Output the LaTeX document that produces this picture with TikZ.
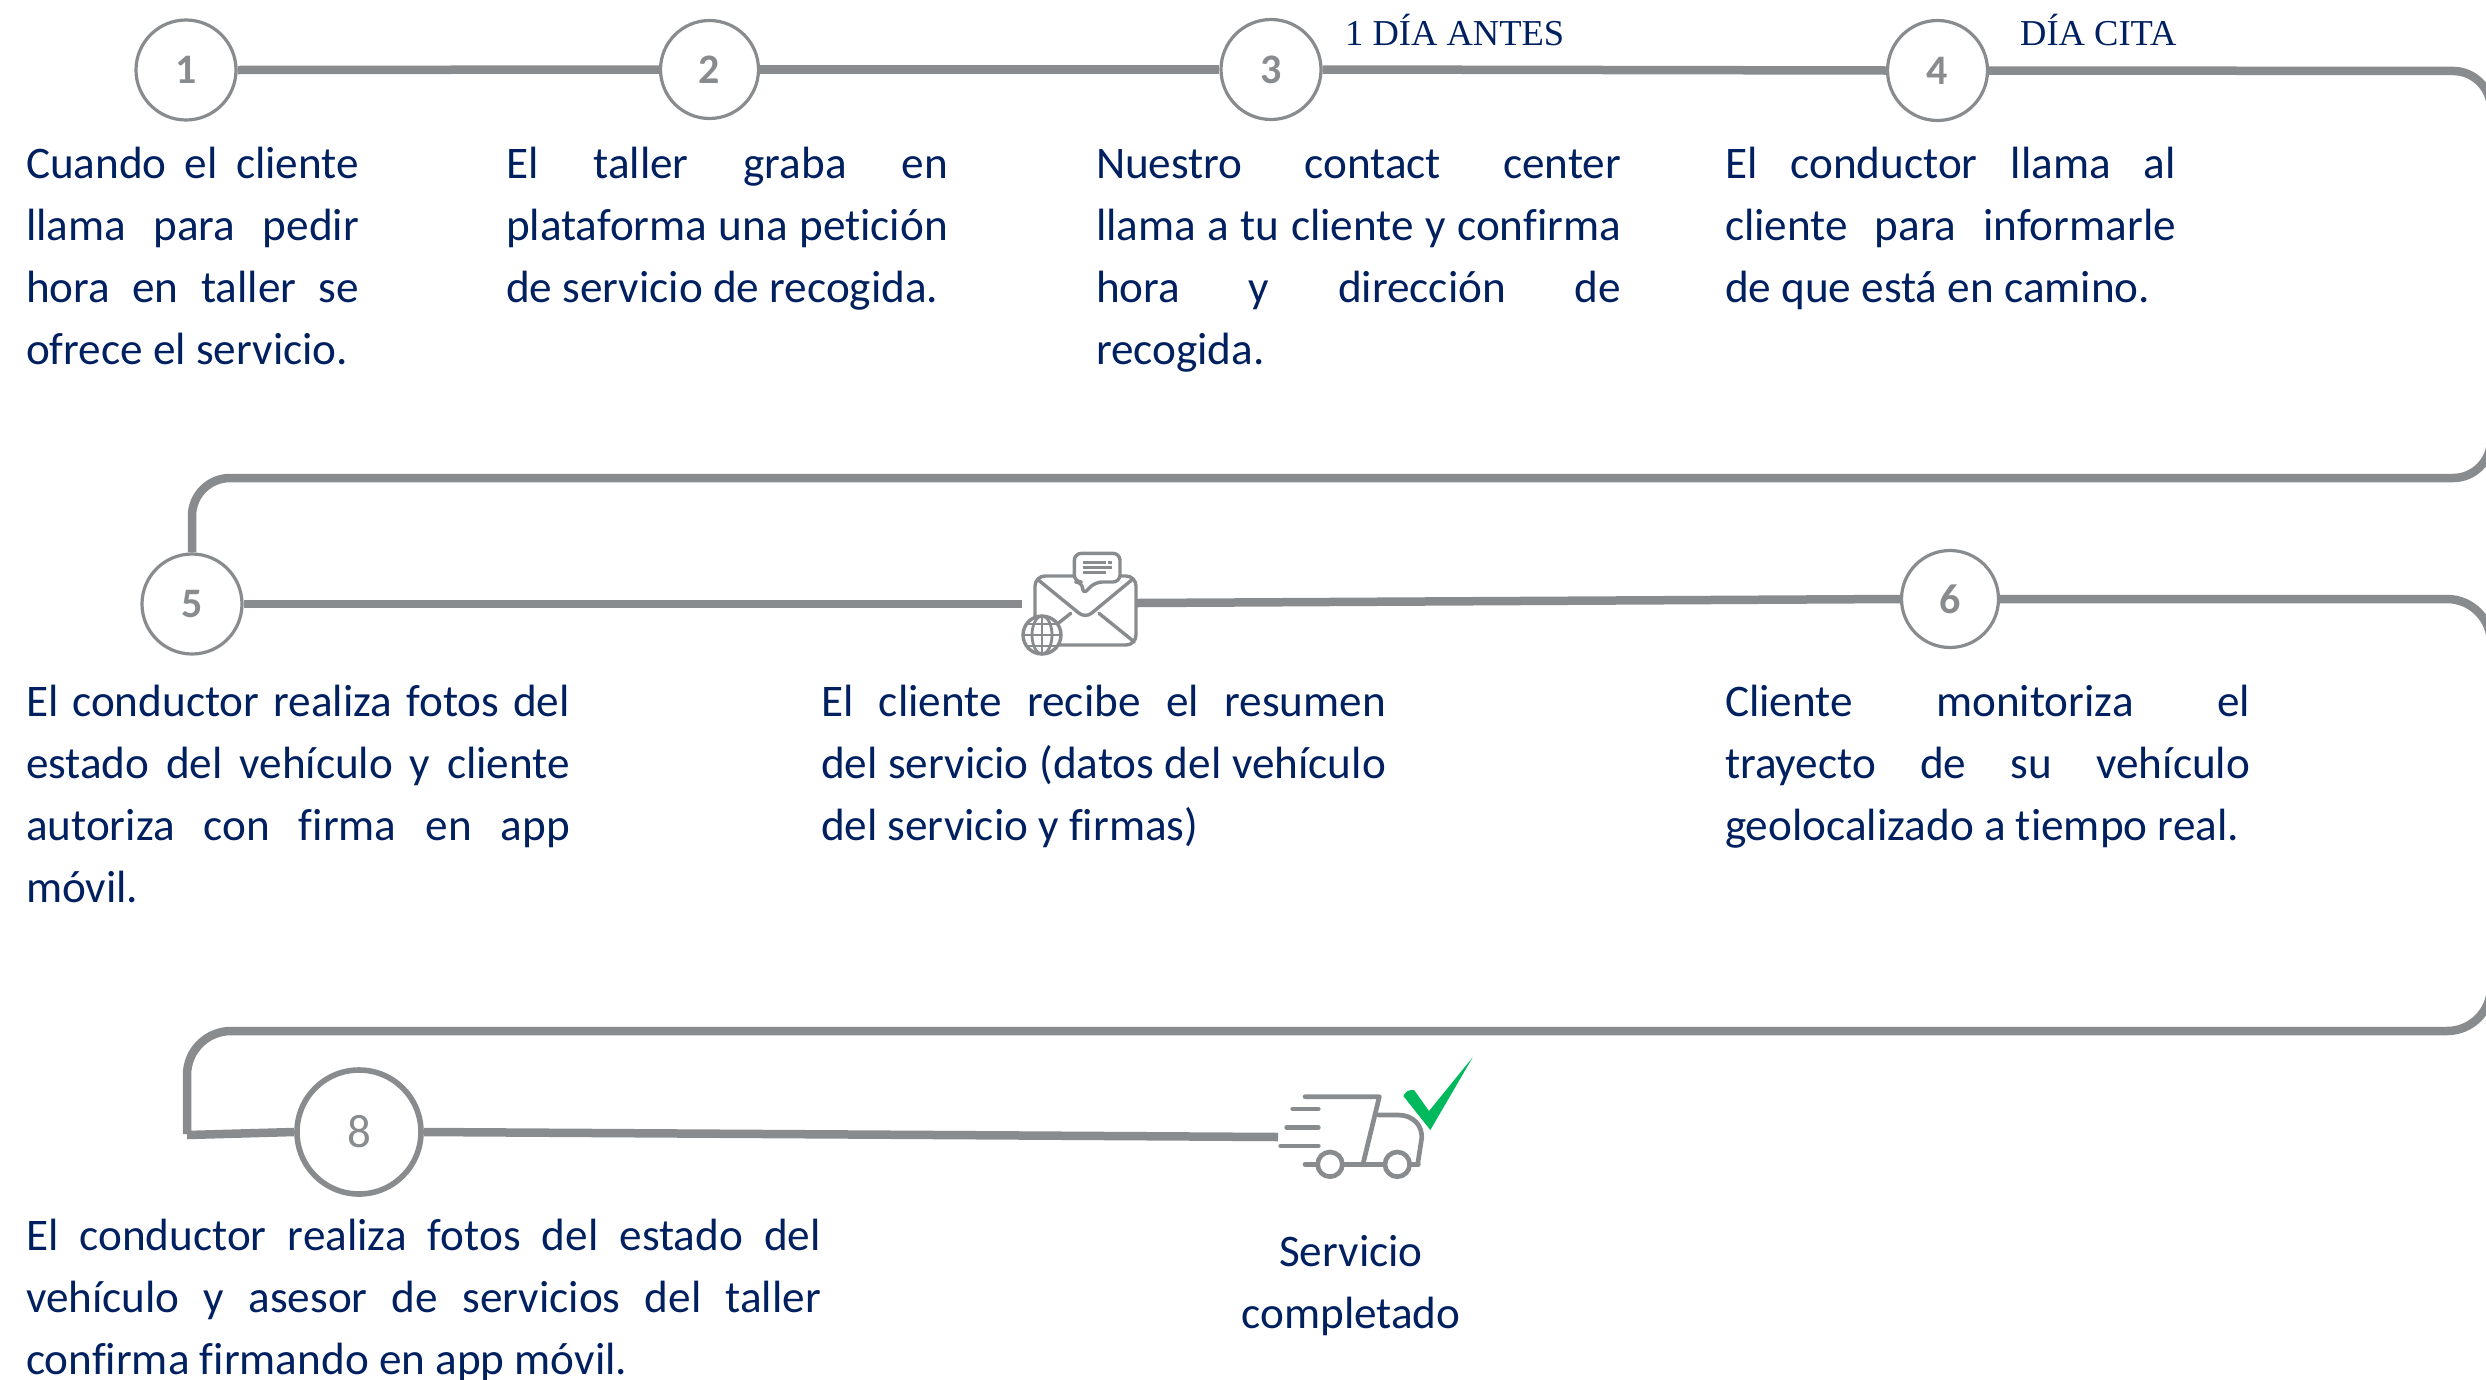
\documentclass[tikz,border=0pt]{standalone}
\usepackage{fontspec}
\setmainfont{Carlito}[Ligatures=NoCommon]
\newfontfamily\serifx{Liberation Serif}
\definecolor{wiregray}{HTML}{898C8E}
\definecolor{navy}{HTML}{002060}
\definecolor{okgreen}{HTML}{00B95C}
\begin{document}
\begin{tikzpicture}[x=1pt,y=-1pt,
  wire/.style={draw=wiregray,line width=8.5pt},
  stepnum/.style={circle,draw=wiregray,fill=white,inner sep=0pt,line width=3.2pt,text=wiregray,font=\fontsize{42}{42}\selectfont\bfseries},
  body/.style={anchor=north west,inner sep=0pt,outer sep=0pt,text=navy,align=justify,font=\fontsize{45.2}{62}\selectfont,execute at begin node={\tolerance=9999\hbadness=10000\hfuzz=3pt\rule{0pt}{40pt}}},
  tag/.style={anchor=base west,inner sep=0pt,text=navy,font=\fontsize{36.5}{36.5}\selectfont\serifx},
  icon/.style={draw=wiregray,line width=3.4pt,line cap=round,line join=round},
  truckline/.style={draw=wiregray,line width=4.7pt,line cap=round,line join=round}]
\useasboundingbox (0,0) rectangle (2486,1379);
\fill[white] (0,0) rectangle (2486,1379);

% step circles
\node[stepnum,minimum size=100pt] (n1) at (186,70) {1};
\node[stepnum,minimum size=98pt] (n2) at (709.5,69.5) {2};
\node[stepnum,minimum size=100pt] (n3) at (1271,69.5) {3};
\node[stepnum,minimum size=100pt] (n4) at (1937.5,70.5) {4};
\node[stepnum,minimum size=100pt] (n5) at (192,604) {5};
\node[stepnum,minimum size=97pt] (n6) at (1950,599) {6};
\node[stepnum,minimum size=124pt,line width=5.6pt,font=\fontsize{47}{47}\selectfont] (n8) at (359,1132) {8};

% free ends of connectors
\coordinate (envL) at (1022,604);
\coordinate (envR) at (1137,603);
\coordinate (truckL) at (1278,1137);
\coordinate (r1a) at (2491,71);
\coordinate (r1b) at (2491,478);
\coordinate (l1) at (192,478);
\coordinate (r2a) at (2491,599);
\coordinate (r2b) at (2491,1031);
\coordinate (l2) at (187,1031);
\coordinate (l2end) at (187,1134);
\coordinate (l2start) at (187,1135);

% connectors
\draw[wire] (n1.east) -- (n2.west);
\draw[wire] (n2.east) -- (n3.west);
\draw[wire] (n3.east) -- (n4.west);
\draw[wire,rounded corners=38pt] (n4.east) -- (r1a) -- (r1b) -- (l1) -- (n5.north);
\draw[wire] (n5.east) -- (envL);
\draw[wire] (envR) -- (n6.west);
\draw[wire,rounded corners=44pt] (n6.east) -- (r2a) -- (r2b) -- (l2) -- (l2end);
\draw[wire] (l2start) -- (n8.west);
\draw[wire] (n8.east) -- (truckL);

% envelope icon
\begin{scope}[shift={(980,520)},x=0.33333pt,y=-0.33333pt]
  \draw[icon,rounded corners=10pt] (165,168) rectangle (468,375);
  \draw[icon,rounded corners=8pt] (175,180) -- (316,295) -- (455,180);
  \draw[icon] (357,280) -- (462,365);
  \draw[icon] (272,280) -- (232,312);
  \draw[icon,fill=white,rounded corners=7pt] (283,100) -- (420,100) -- (420,186) -- (345,186) -- (308,225) -- (308,186) -- (283,186) -- cycle;
  \draw[icon,line width=2.6pt,line cap=butt] (310,127) -- (378,127) (385,127) -- (397,127) (310,143) -- (397,143) (310,158) -- (378,158);
  \draw[icon,fill=white] (186,345) circle (57);
  \draw[icon,line width=2.8pt] (186,345) ellipse (30 and 57);
  \draw[icon,line width=2.8pt] (186,288) -- (186,402) (129,345) -- (243,345) (140,312) -- (232,312) (140,378) -- (232,378);
\end{scope}

% truck icon
\begin{scope}[shift={(1250,1040)},x=0.33333pt,y=-0.33333pt]
  \draw[truckline] (165,170) -- (388,170) -- (340,368);
  \draw[truckline] (128,207) -- (205,207);
  \draw[truckline] (110,263) -- (205,263);
  \draw[truckline] (92,318) -- (205,318);
  \draw[truckline] (165,373) -- (505,373);
  \draw[truckline] (385,225) -- (445,225) .. controls (490,225) and (518,258) .. (515,295) -- (503,373);
  \draw[truckline,fill=white] (240,373) circle (37);
  \draw[truckline,fill=white] (442,373) circle (37);
  \fill[okgreen] (460,168) .. controls (465,155) and (478,148) .. (492,150) -- (537,213) -- (668,52) -- (541,270) -- cycle;
\end{scope}

% tags
\node[tag] (t3) at (1345,45) {1 DÍA ANTES};
\node[tag] (t4) at (2020,45) {DÍA CITA};

% text blocks
\node[body,text width=333pt] (b1) at (26,138) {Cuando el cliente\linebreak llama para pedir\linebreak hora en taller se\linebreak ofrece el servicio.};
\node[body,text width=442pt] (b2) at (506,138) {El taller graba en\linebreak plataforma una petición\linebreak de servicio de recogida.};
\node[body,text width=525pt] (b3) at (1096,138) {Nuestro contact center\linebreak llama a tu cliente y confirma\linebreak hora y dirección de\linebreak recogida.};
\node[body,text width=451pt] (b4) at (1725,138) {El conductor llama al\linebreak cliente para informarle\linebreak de que está en camino.};
\node[body,text width=544pt] (b5) at (26,676) {El conductor realiza fotos del\linebreak estado del vehículo y cliente\linebreak autoriza con firma en app\linebreak móvil.};
\node[body,text width=565pt] (b6) at (821,676) {El cliente recibe el resumen\linebreak del servicio (datos del vehículo\linebreak del servicio y firmas)};
\node[body,text width=525pt] (b7) at (1725,676) {Cliente monitoriza el\linebreak trayecto de su vehículo\linebreak geolocalizado a tiempo real.};
\node[body,text width=795pt] (b8) at (26,1210) {El conductor realiza fotos del estado del\linebreak vehículo y asesor de servicios del taller\linebreak confirma firmando en app móvil.};
\node[anchor=base,inner sep=0pt,text=navy,align=center,font=\fontsize{45.2}{62}\selectfont] (b9) at (1351,1328) {Servicio\\completado};
\end{tikzpicture}
\end{document}
